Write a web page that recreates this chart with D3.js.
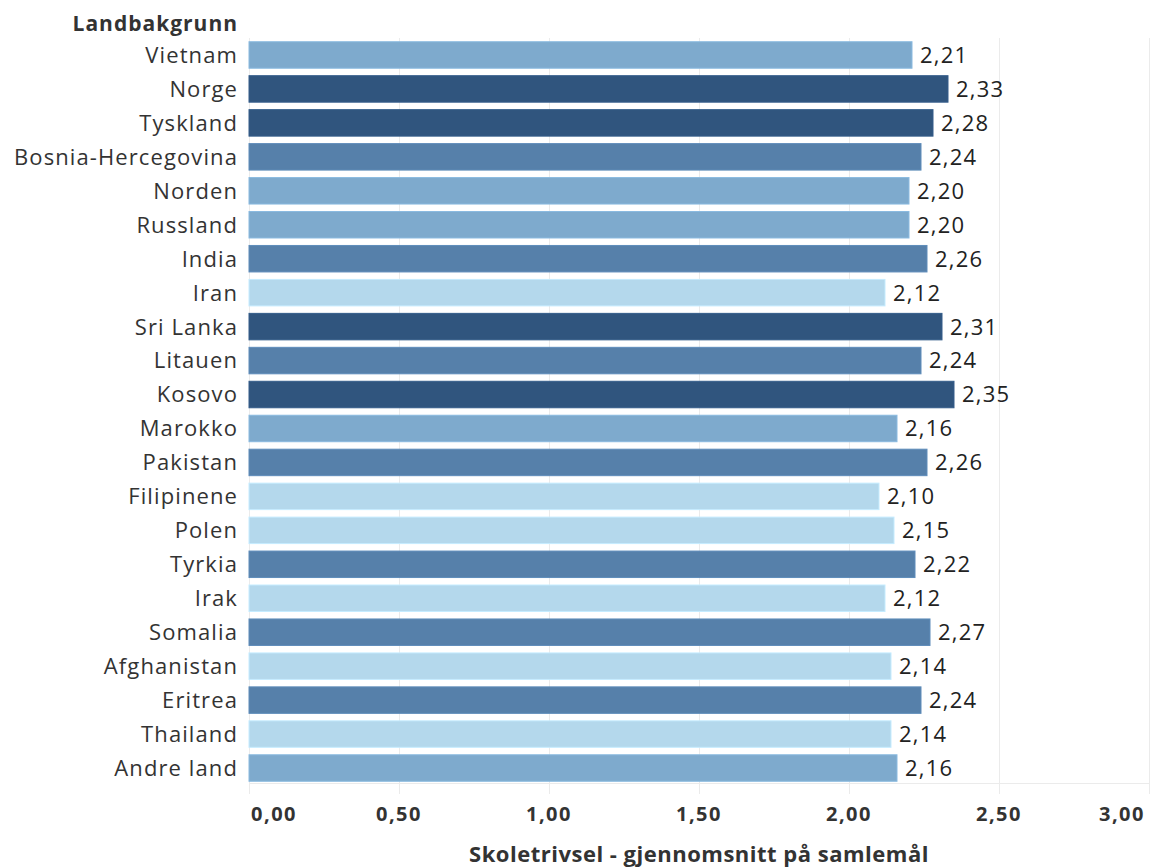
<!DOCTYPE html>
<html><head><meta charset="utf-8">
<script src="https://cdn.jsdelivr.net/npm/d3@7"></script>
<style>
html,body{margin:0;padding:0;background:#fff;}
svg{display:block;}
text{font-family:"Open Sans",sans-serif;}
</style></head>
<body>
<svg id="chart" width="1153" height="868"></svg>
<script>
const categories = ["Vietnam","Norge","Tyskland","Bosnia-Hercegovina","Norden","Russland","India","Iran","Sri Lanka","Litauen","Kosovo","Marokko","Pakistan","Filipinene","Polen","Tyrkia","Irak","Somalia","Afghanistan","Eritrea","Thailand","Andre land"];
const values = [2.21,2.33,2.28,2.24,2.20,2.20,2.26,2.12,2.31,2.24,2.35,2.16,2.26,2.10,2.15,2.22,2.12,2.27,2.14,2.24,2.14,2.16];
const tickValues = [0,0.5,1,1.5,2,2.5,3];
const colorBreaks = [2.155,2.215,2.275];
const colorRange = ["#b4d8ec","#7eaacd","#5680aa","#30557e"];
const rowTitle = "Landbakgrunn";
const axisTitle = "Skoletrivsel - gjennomsnitt på samlemål";

const svg = d3.select("#chart");
const m = {left:249, right:1149, top:38, bottom:785};
const x = d3.scaleLinear().domain([0,3]).range([m.left,m.right]);
const y = d3.scaleBand().domain(categories).range([m.top,m.bottom]).paddingInner(0.22).paddingOuter(0.11);
const color = d3.scaleThreshold().domain(colorBreaks).range(colorRange);
const fmt = v => d3.format(".2f")(v).replace(".",",");

// grid
svg.append("g").selectAll("line").data(tickValues).join("line")
  .attr("x1",d=>x(d)+0.5).attr("x2",d=>x(d)+0.5)
  .attr("y1",m.top).attr("y2",m.bottom+9)
  .attr("stroke","#ebebeb").attr("stroke-width",1);
svg.append("line").attr("x1",m.left).attr("x2",m.right).attr("y1",m.bottom-1.5).attr("y2",m.bottom-1.5)
  .attr("stroke","#ebebeb");

// bars
svg.append("g").selectAll("rect").data(categories).join("rect")
  .attr("x",x(0)).attr("y",d=>y(d))
  .attr("width",(d,i)=>x(values[i])-x(0)).attr("height",y.bandwidth())
  .attr("fill",(d,i)=>color(values[i]))
  .attr("stroke",(d,i)=>d3.color(color(values[i])).brighter(0.25))
  .attr("stroke-width",1);

// category labels
svg.append("g").selectAll("text").data(categories).join("text")
  .attr("x",238).attr("y",d=>y(d)+y.bandwidth()/2)
  .attr("dy","0.36em").attr("text-anchor","end")
  .attr("font-size",22).attr("letter-spacing",1.1).attr("fill","#333").text(d=>d);

// value labels
svg.append("g").selectAll("text").data(categories).join("text")
  .attr("x",(d,i)=>x(values[i])+8).attr("y",d=>y(d)+y.bandwidth()/2)
  .attr("dy","0.36em").attr("text-anchor","start")
  .attr("font-size",22).attr("letter-spacing",1.2).attr("fill","#222").text((d,i)=>fmt(values[i]));

// row title
svg.append("text").attr("x",238).attr("y",31).attr("text-anchor","end")
  .attr("font-size",21).attr("letter-spacing",1).attr("font-weight","bold").attr("fill","#333").text(rowTitle);

// tick labels
svg.append("g").selectAll("text").data(tickValues).join("text")
  .attr("x",(d,i)=> i===0 ? x(d)+2 : (i===tickValues.length-1 ? x(d)-4 : x(d)))
  .attr("y",821)
  .attr("text-anchor",(d,i)=> i===0 ? "start" : (i===tickValues.length-1 ? "end" : "middle"))
  .attr("font-size",20).attr("letter-spacing",1.5).attr("font-weight","bold").attr("fill","#333").text(d=>fmt(d));

// axis title
svg.append("text").attr("x",(m.left+m.right)/2).attr("y",862).attr("text-anchor","middle")
  .attr("font-size",22).attr("letter-spacing",0.5).attr("font-weight","bold").attr("fill","#333").text(axisTitle);
</script>
</body></html>
